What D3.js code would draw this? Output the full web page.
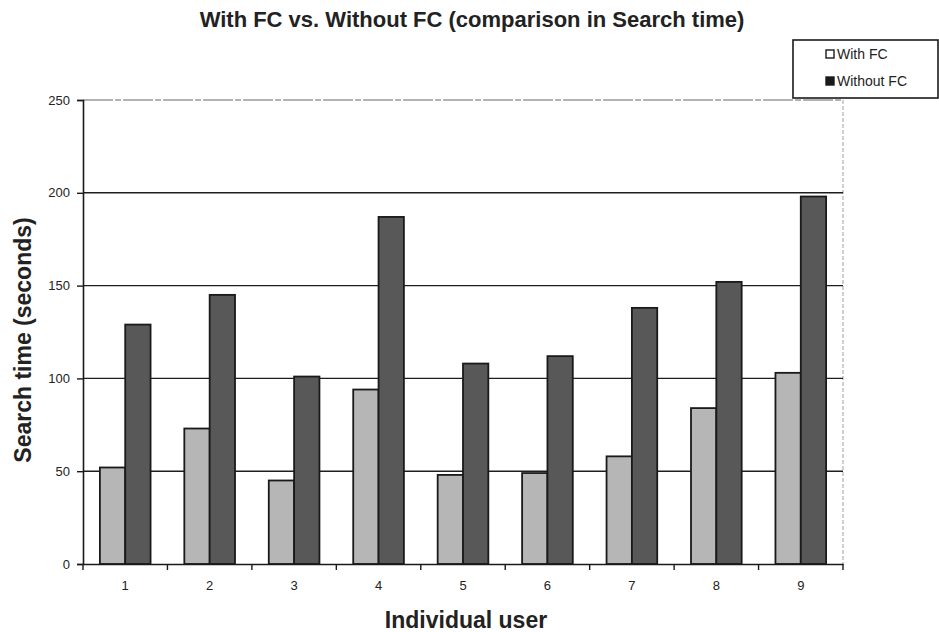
<!DOCTYPE html>
<html>
<head>
<meta charset="utf-8">
<script src="https://cdn.jsdelivr.net/npm/d3@7"></script>
<style>
  body { margin: 0; background: #fff; }
  svg { display: block; font-family: Arial, "Liberation Sans", sans-serif; }
</style>
</head>
<body>
<div id="chart"></div>
<script>
// users on the x axis
var users = ["1", "2", "3", "4", "5", "6", "7", "8", "9"];
// search time in seconds
var withFC = [52, 73, 45, 94, 48, 49, 58, 84, 103];
var withoutFC = [129, 145, 101, 187, 108, 112, 138, 152, 198];
var seriesNames = ["With FC", "Without FC"];
var yTicks = [0, 50, 100, 150, 200, 250];

var width = 939, height = 632;
var plot = {left: 83, right: 843, top: 100, bottom: 564};

var svg = d3.select("#chart").append("svg")
  .attr("width", width)
  .attr("height", height);

// scales
var y = d3.scaleLinear().domain([0, 250]).range([plot.bottom, plot.top]);
var x = d3.scaleBand().domain(users).range([plot.left, plot.right])
  .paddingInner(0.4).paddingOuter(0.2);
var xs = d3.scaleBand().domain(seriesNames).range([0, x.bandwidth()]);

var fills = {"With FC": "#b6b6b6", "Without FC": "#585858"};

// top and right border of the plot, light and broken like a scan
svg.append("line")
  .attr("x1", plot.left).attr("x2", plot.right)
  .attr("y1", y(250)).attr("y2", y(250))
  .attr("stroke", "#9a9a9a").attr("stroke-width", 1.3)
  .attr("stroke-dasharray", "30,2,6,2");
svg.append("line")
  .attr("x1", plot.right).attr("x2", plot.right)
  .attr("y1", plot.top).attr("y2", plot.bottom)
  .attr("stroke", "#a0a0a0").attr("stroke-width", 1)
  .attr("stroke-dasharray", "4,2");

// gridlines
svg.append("g").selectAll("line")
  .data(yTicks.filter(function(d) { return d > 0 && d < 250; }))
  .enter().append("line")
  .attr("x1", plot.left).attr("x2", plot.right)
  .attr("y1", function(d) { return y(d); })
  .attr("y2", function(d) { return y(d); })
  .attr("stroke", "#1e1e1e").attr("stroke-width", 1.4);

// bars
var rows = users.map(function(u, i) {
  return {user: u, values: [
    {name: seriesNames[0], value: withFC[i]},
    {name: seriesNames[1], value: withoutFC[i]}
  ]};
});

svg.append("g").selectAll("g")
  .data(rows)
  .enter().append("g")
  .attr("transform", function(d) { return "translate(" + x(d.user) + ",0)"; })
  .selectAll("rect")
  .data(function(d) { return d.values; })
  .enter().append("rect")
  .attr("x", function(d) { return xs(d.name); })
  .attr("y", function(d) { return y(d.value); })
  .attr("width", xs.bandwidth())
  .attr("height", function(d) { return y(0) - y(d.value); })
  .attr("fill", function(d) { return fills[d.name]; })
  .attr("stroke", "#1a1a1a")
  .attr("stroke-width", 1.8);

// y axis
var yAxis = svg.append("g")
  .attr("transform", "translate(" + plot.left + ",0)")
  .call(d3.axisLeft(y).tickValues(yTicks).tickSize(6).tickPadding(7));
yAxis.select(".domain").attr("stroke", "#1a1a1a").attr("stroke-width", 1.6);
yAxis.selectAll(".tick line").attr("stroke", "#1a1a1a").attr("stroke-width", 1.4);
yAxis.selectAll("text").attr("font-size", 13).attr("fill", "#222")
  .attr("font-family", "Arial, 'Liberation Sans', sans-serif");

// x axis, ticks sit between the users
var xAxis = svg.append("g")
  .attr("transform", "translate(0," + plot.bottom + ")")
  .call(d3.axisBottom(x).tickSize(0).tickPadding(17));
xAxis.select(".domain").attr("stroke", "#1a1a1a").attr("stroke-width", 1.6);
xAxis.selectAll("text").attr("font-size", 13).attr("fill", "#222")
  .attr("font-family", "Arial, 'Liberation Sans', sans-serif");
xAxis.selectAll(".sep")
  .data(d3.range(users.length + 1))
  .enter().append("line")
  .attr("class", "sep")
  .attr("x1", function(k) { return plot.left + k * x.step(); })
  .attr("x2", function(k) { return plot.left + k * x.step(); })
  .attr("y1", 0).attr("y2", 6)
  .attr("stroke", "#1a1a1a").attr("stroke-width", 1.4);

// titles
svg.append("text")
  .attr("x", 472).attr("y", 27)
  .attr("text-anchor", "middle")
  .attr("font-size", 22).attr("font-weight", "bold").attr("fill", "#222")
  .text("With FC vs. Without FC (comparison in Search time)");

svg.append("text")
  .attr("transform", "translate(31," + 340 + ") rotate(-90)")
  .attr("text-anchor", "middle")
  .attr("font-size", 23).attr("font-weight", "bold").attr("fill", "#222")
  .text("Search time (seconds)");

svg.append("text")
  .attr("x", 466).attr("y", 628)
  .attr("text-anchor", "middle")
  .attr("font-size", 23).attr("font-weight", "bold").attr("fill", "#222")
  .text("Individual user");

// legend
var legend = svg.append("g");
legend.append("rect")
  .attr("x", 793).attr("y", 40).attr("width", 145).attr("height", 58)
  .attr("fill", "#fff").attr("stroke", "#1a1a1a").attr("stroke-width", 1.6);

var item = legend.selectAll(".item")
  .data(seriesNames)
  .enter().append("g")
  .attr("class", "item")
  .attr("transform", function(d, i) { return "translate(826," + (54 + i * 27) + ")"; });
item.append("rect")
  .attr("x", 0).attr("y", -4).attr("width", 8).attr("height", 8)
  .attr("fill", function(d, i) { return i === 0 ? "#fff" : "#1a1a1a"; })
  .attr("stroke", "#1a1a1a").attr("stroke-width", 1.4);
item.append("text")
  .attr("x", 11).attr("y", 0).attr("dy", "0.35em")
  .attr("font-size", 14).attr("fill", "#222")
  .text(function(d) { return d; });
</script>
</body>
</html>
